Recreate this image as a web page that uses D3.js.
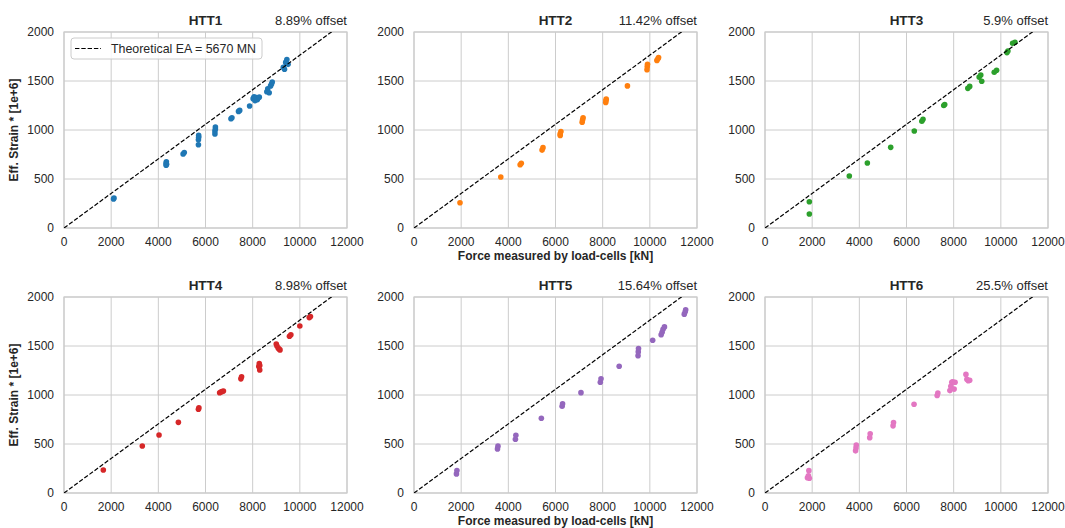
<!DOCTYPE html>
<html>
<head>
<meta charset="utf-8">
<script src="https://cdn.jsdelivr.net/npm/d3@7"></script>
<style>
  body { margin: 0; background: #fff; }
  text { font-family: "Liberation Sans", Arial, sans-serif; fill: #262626; }
</style>
</head>
<body>
<div id="graph"></div>
<script>
var names = ["HTT1", "HTT2", "HTT3", "HTT4", "HTT5", "HTT6"];
var offsets = ["8.89% offset", "11.42% offset", "5.9% offset", "8.98% offset", "15.64% offset", "25.5% offset"];
var colors = ["#1f77b4", "#ff7f0e", "#2ca02c", "#d62728", "#9467bd", "#e377c2"];
var eaMN = 5670;
var xTicks = [0, 2000, 4000, 6000, 8000, 10000, 12000];
var yTicks = [0, 500, 1000, 1500, 2000];

var htt1Force = [2100, 2120, 4330, 4330, 4340, 4350, 5050, 5100, 5700, 5700, 5710, 5710, 6400, 6400, 6420, 6420, 7080, 7120, 7400, 7450, 7870, 8020, 8060, 8100, 8150, 8200, 8280, 8600, 8640, 8700, 8760, 8800, 8830, 9300, 9350, 9400, 9450, 9500];
var htt1Strain = [296, 305, 640, 660, 675, 650, 755, 770, 850, 900, 925, 945, 960, 990, 1010, 1030, 1115, 1125, 1190, 1200, 1245, 1320, 1340, 1300, 1330, 1310, 1335, 1390, 1420, 1380, 1450, 1470, 1490, 1640, 1620, 1690, 1720, 1670];

var htt2Force = [1950, 3680, 4500, 4550, 5430, 5470, 6200, 6200, 6230, 7130, 7150, 7170, 8130, 8140, 8150, 9050, 9880, 9890, 9900, 10300, 10350, 10370];
var htt2Strain = [258, 520, 645, 660, 795, 820, 945, 960, 985, 1080, 1105, 1125, 1280, 1300, 1315, 1450, 1615, 1645, 1670, 1710, 1730, 1740];

var htt3Force = [1880, 1880, 3575, 4340, 5330, 6330, 6650, 6700, 7580, 7620, 8600, 8680, 9080, 9150, 9190, 9720, 9820, 10260, 10300, 10500, 10600];
var htt3Strain = [268, 143, 531, 663, 823, 990, 1090, 1110, 1250, 1260, 1425, 1445, 1540, 1560, 1497, 1590, 1610, 1790, 1805, 1885, 1895];

var htt4Force = [1667, 3320, 4030, 4850, 5700, 5720, 6600, 6650, 6700, 6760, 7500, 7530, 8260, 8280, 8300, 8300, 9000, 9030, 9080, 9120, 9160, 9560, 9620, 10000, 10400, 10450];
var htt4Strain = [235, 480, 592, 721, 855, 870, 1023, 1030, 1035, 1041, 1165, 1185, 1290, 1320, 1255, 1300, 1520, 1500, 1480, 1470, 1460, 1600, 1615, 1704, 1790, 1800];

var htt5Force = [1800, 1820, 3540, 3560, 4300, 4320, 5400, 6280, 6300, 7080, 7900, 7930, 8700, 9500, 9510, 9520, 10120, 10480, 10520, 10560, 10620, 11460, 11500, 11520];
var htt5Strain = [195, 230, 450, 478, 548, 590, 762, 885, 910, 1024, 1130, 1165, 1293, 1400, 1440, 1475, 1558, 1615, 1640, 1670, 1695, 1825, 1850, 1870];

var htt6Force = [1800, 1840, 1860, 1880, 3840, 3860, 3870, 4440, 4460, 5430, 5450, 6320, 7300, 7330, 7840, 7880, 7920, 7960, 8020, 8060, 8520, 8560, 8620, 8680];
var htt6Strain = [155, 175, 228, 150, 430, 460, 490, 565, 605, 685, 720, 905, 995, 1020, 1045, 1090, 1130, 1135, 1060, 1130, 1210, 1160, 1145, 1150];

var forces = [htt1Force, htt2Force, htt3Force, htt4Force, htt5Force, htt6Force];
var strains = [htt1Strain, htt2Strain, htt3Strain, htt4Strain, htt5Strain, htt6Strain];

var width = 1065, height = 528;
var lefts = [64, 414, 765], tops = [32, 297];
var pw = 283, ph = 196;

var svg = d3.select("#graph").append("svg")
  .attr("width", width).attr("height", height);
svg.append("rect").attr("width", width).attr("height", height).attr("fill", "#fff");

var x = d3.scaleLinear().domain([0, 12000]).range([0, pw]);
var y = d3.scaleLinear().domain([0, 2000]).range([ph, 0]);

names.forEach(function(name, i) {
  var col = i % 3, row = Math.floor(i / 3);
  var g = svg.append("g")
    .attr("transform", "translate(" + lefts[col] + "," + tops[row] + ")");

  g.append("clipPath").attr("id", "clip" + i)
    .append("rect").attr("width", pw).attr("height", ph);

  // grid
  g.selectAll(".gx").data(xTicks).enter().append("line")
    .attr("x1", function(d) { return x(d); }).attr("x2", function(d) { return x(d); })
    .attr("y1", 0).attr("y2", ph)
    .attr("stroke", "#cccccc").attr("stroke-width", 1);
  g.selectAll(".gy").data(yTicks).enter().append("line")
    .attr("y1", function(d) { return y(d); }).attr("y2", function(d) { return y(d); })
    .attr("x1", 0).attr("x2", pw)
    .attr("stroke", "#cccccc").attr("stroke-width", 1);
  g.append("rect").attr("width", pw).attr("height", ph)
    .attr("fill", "none").attr("stroke", "#cccccc").attr("stroke-width", 1.2);

  // tick labels
  g.selectAll(".tx").data(xTicks).enter().append("text")
    .attr("x", function(d) { return x(d); }).attr("y", ph + 18)
    .attr("text-anchor", "middle").attr("font-size", "12px")
    .text(function(d) { return d; });
  g.selectAll(".ty").data(yTicks).enter().append("text")
    .attr("x", -10).attr("y", function(d) { return y(d) + 4.3; })
    .attr("text-anchor", "end").attr("font-size", "12px")
    .text(function(d) { return d; });

  // points
  var pts = d3.zip(forces[i], strains[i]);
  g.append("g").attr("clip-path", "url(#clip" + i + ")")
    .selectAll("circle").data(pts).enter().append("circle")
    .attr("cx", function(d) { return x(d[0]); })
    .attr("cy", function(d) { return y(d[1]); })
    .attr("r", 2.8)
    .attr("fill", colors[i]);

  // theoretical line
  var line = d3.line()
    .x(function(d) { return x(d); })
    .y(function(d) { return y(d / eaMN * 1000); });
  g.append("path").datum([0, 12000])
    .attr("clip-path", "url(#clip" + i + ")")
    .attr("d", line)
    .attr("fill", "none").attr("stroke", "#000")
    .attr("stroke-width", 1.2).attr("stroke-dasharray", "4.4,1.9");

  // titles
  g.append("text").attr("x", pw / 2).attr("y", -7)
    .attr("text-anchor", "middle").attr("font-size", "13.5px").attr("font-weight", "bold")
    .text(name);
  g.append("text").attr("x", pw).attr("y", -7)
    .attr("text-anchor", "end").attr("font-size", "13px")
    .text(offsets[i]);

  if (col === 0) {
    g.append("text")
      .attr("transform", "translate(" + (18 - lefts[0]) + "," + (ph / 2) + ") rotate(-90)")
      .attr("text-anchor", "middle").attr("font-size", "12px").attr("font-weight", "bold")
      .text("Eff. Strain * [1e+6]");
  }
  if (col === 1) {
    g.append("text").attr("x", pw / 2).attr("y", ph + 32)
      .attr("text-anchor", "middle").attr("font-size", "12px").attr("font-weight", "bold")
      .text("Force measured by load-cells [kN]");
  }

  if (i === 0) {
    var lg = g.append("g").attr("transform", "translate(7,6)");
    lg.append("rect").attr("width", 191).attr("height", 21).attr("rx", 3)
      .attr("fill", "#fff").attr("fill-opacity", 0.85)
      .attr("stroke", "#cccccc").attr("stroke-width", 1);
    lg.append("line").attr("x1", 4).attr("x2", 30).attr("y1", 10.5).attr("y2", 10.5)
      .attr("stroke", "#000").attr("stroke-width", 1.2).attr("stroke-dasharray", "4.4,1.9");
    lg.append("text").attr("x", 40).attr("y", 15)
      .attr("font-size", "12.4px")
      .text("Theoretical EA = " + eaMN + " MN");
  }
});
</script>
</body>
</html>
